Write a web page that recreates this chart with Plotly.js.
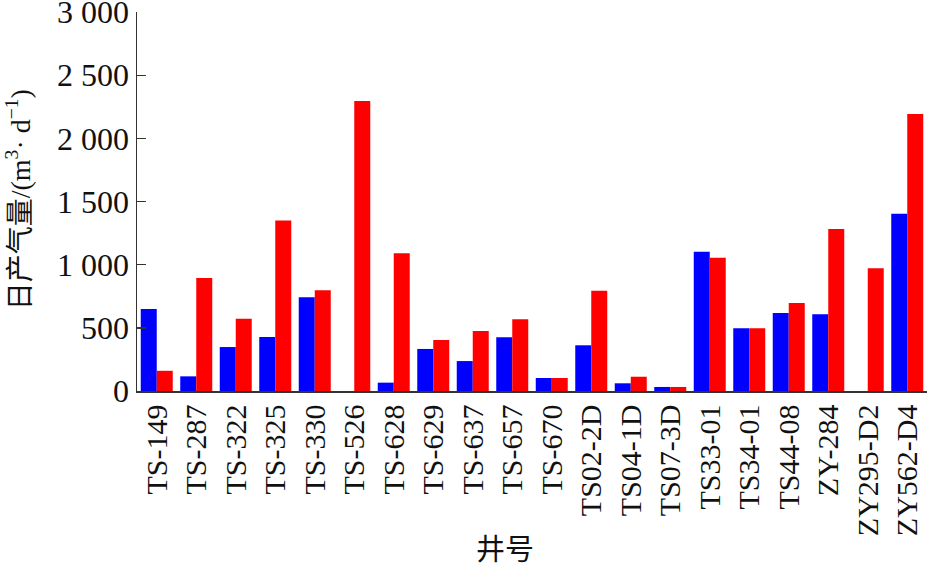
<!DOCTYPE html>
<html>
<head>
<meta charset="utf-8">
<script src="https://cdn.plot.ly/plotly-3.0.1.min.js"></script>
<style>html,body{margin:0;padding:0;background:#fff;}#chart{width:927px;height:568px;}</style>
</head>
<body>
<div id="chart"></div>
<script>
const wells = ["TS-149","TS-287","TS-322","TS-325","TS-330","TS-526","TS-628","TS-629","TS-637","TS-657","TS-670","TS02-2D","TS04-1D","TS07-3D","TS33-01","TS34-01","TS44-08","ZY-284","ZY295-D2","ZY562-D4"];
const blueValues = [649,116,348,428,742,0,66,333,237,425,103,362,61,32,1103,496,618,607,0,1404];
const redValues  = [160,895,572,1350,797,2296,1090,404,475,568,103,794,113,32,1055,496,697,1283,971,2193];
const yTickVals = [0,500,1000,1500,2000,2500,3000];
const yTickText = ["0","500","1 000","1 500","2 000","2 500","3 000"];
const yTitle = "日产气量/(m<sup>3</sup>· d<sup>−1</sup>)";
const xTitle = "井号";

const serif = "Liberation Serif, Times New Roman, Noto Sans CJK SC, serif";

const traces = [
  {type:"bar", x: wells, y: blueValues, marker:{color:"#0000FF", line:{width:0}}, name:"A"},
  {type:"bar", x: wells, y: redValues, marker:{color:"#FF0000", line:{width:0}}, name:"B"}
];

const layout = {
  width: 927, height: 568,
  margin: {l:137, r:0, t:12, b:177},
  paper_bgcolor:"#fff", plot_bgcolor:"#fff",
  showlegend:false,
  barmode:"group", bargap:0.19, bargroupgap:0,
  font:{family:serif, color:"#111"},
  xaxis:{
    type:"category", tickangle:-90, showgrid:false, zeroline:false,
    showline:true, linecolor:"#333", linewidth:1.5, ticks:"",
    tickfont:{family:serif, size:30, color:"#111"}, automargin:false
  },
  yaxis:{
    range:[0,3001], tickvals:yTickVals, ticktext:yTickText,
    ticks:"inside", ticklen:9, tickwidth:1.5, tickcolor:"#333",
    ticklabeloverflow:"allow",
    showline:true, linecolor:"#333", linewidth:1.5, showgrid:false, zeroline:false,
    tickfont:{family:serif, size:32, color:"#111"}, automargin:false
  },
  annotations:[
    {text:yTitle, xref:"paper", yref:"paper", x:-0.149, y:0.504, textangle:-90,
     showarrow:false, xanchor:"center", yanchor:"middle",
     font:{family:serif, size:28, color:"#111"}},
    {text:xTitle, xref:"paper", yref:"paper", x:0.466, y:-0.42,
     showarrow:false, xanchor:"center", yanchor:"middle",
     font:{family:serif, size:29, color:"#111"}}
  ]
};

Plotly.newPlot("chart", traces, layout, {displayModeBar:false, staticPlot:true});
</script>
</body>
</html>
